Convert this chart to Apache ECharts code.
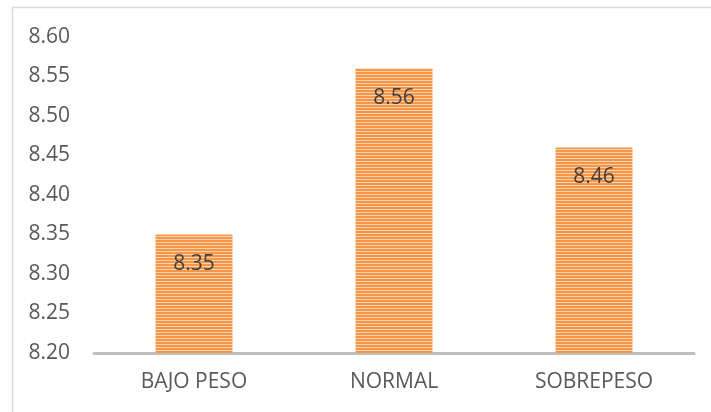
<!DOCTYPE html>
<html>
<head>
<meta charset="utf-8">
<script src="https://cdn.jsdelivr.net/npm/echarts@6/dist/echarts.min.js"></script>
<style>
  html, body { margin: 0; padding: 0; background: #fff; }
  #chart { width: 711px; height: 412px; }
</style>
</head>
<body>
<div id="chart"></div>
<script>
// Categories and values
const categories = ['BAJO PESO', 'NORMAL', 'SOBREPESO'];
const values = [8.35, 8.56, 8.46];
const yMin = 8.2;
const yMax = 8.6;
const yStep = 0.05;

// Horizontal-stripe fill for the bars
function stripePattern() {
  const c = document.createElement('canvas');
  c.width = 6; c.height = 3;
  const ctx = c.getContext('2d');
  ctx.fillStyle = '#F79646';
  ctx.fillRect(0, 0, 6, 2);
  ctx.fillStyle = '#FCD3AE';
  ctx.fillRect(0, 2, 6, 1);
  return c;
}

const chart = echarts.init(document.getElementById('chart'), null, { renderer: 'canvas' });
const font = '"Open Sans", sans-serif';

chart.setOption({
  animation: false,
  graphic: [{
    type: 'rect',
    shape: { x: 12.5, y: 7.5, width: 720, height: 420 },
    style: { fill: 'none', stroke: '#d9d9d9', lineWidth: 1.5 },
    silent: true
  }],
  grid: { left: 94, right: 17, top: 37, bottom: 59 },
  xAxis: {
    type: 'category',
    data: categories,
    axisLine: { lineStyle: { color: '#bfbfbf', width: 3 } },
    axisTick: { show: false },
    axisLabel: { color: '#595959', fontSize: 21, fontFamily: font, margin: 19 }
  },
  yAxis: {
    type: 'value',
    min: yMin,
    max: yMax,
    interval: yStep,
    axisLine: { show: false },
    axisTick: { show: false },
    splitLine: { show: false },
    axisLabel: {
      color: '#595959', fontSize: 21, fontFamily: font, margin: 24,
      formatter: v => v.toFixed(2)
    }
  },
  series: [{
    type: 'bar',
    data: values,
    barWidth: '38.5%',
    itemStyle: { color: { image: stripePattern(), repeat: 'repeat' } },
    label: {
      show: true,
      position: 'insideTop',
      distance: 19,
      color: '#404040',
      fontSize: 21,
      fontFamily: font,
      formatter: p => p.value.toFixed(2)
    }
  }]
});
</script>
</body>
</html>
